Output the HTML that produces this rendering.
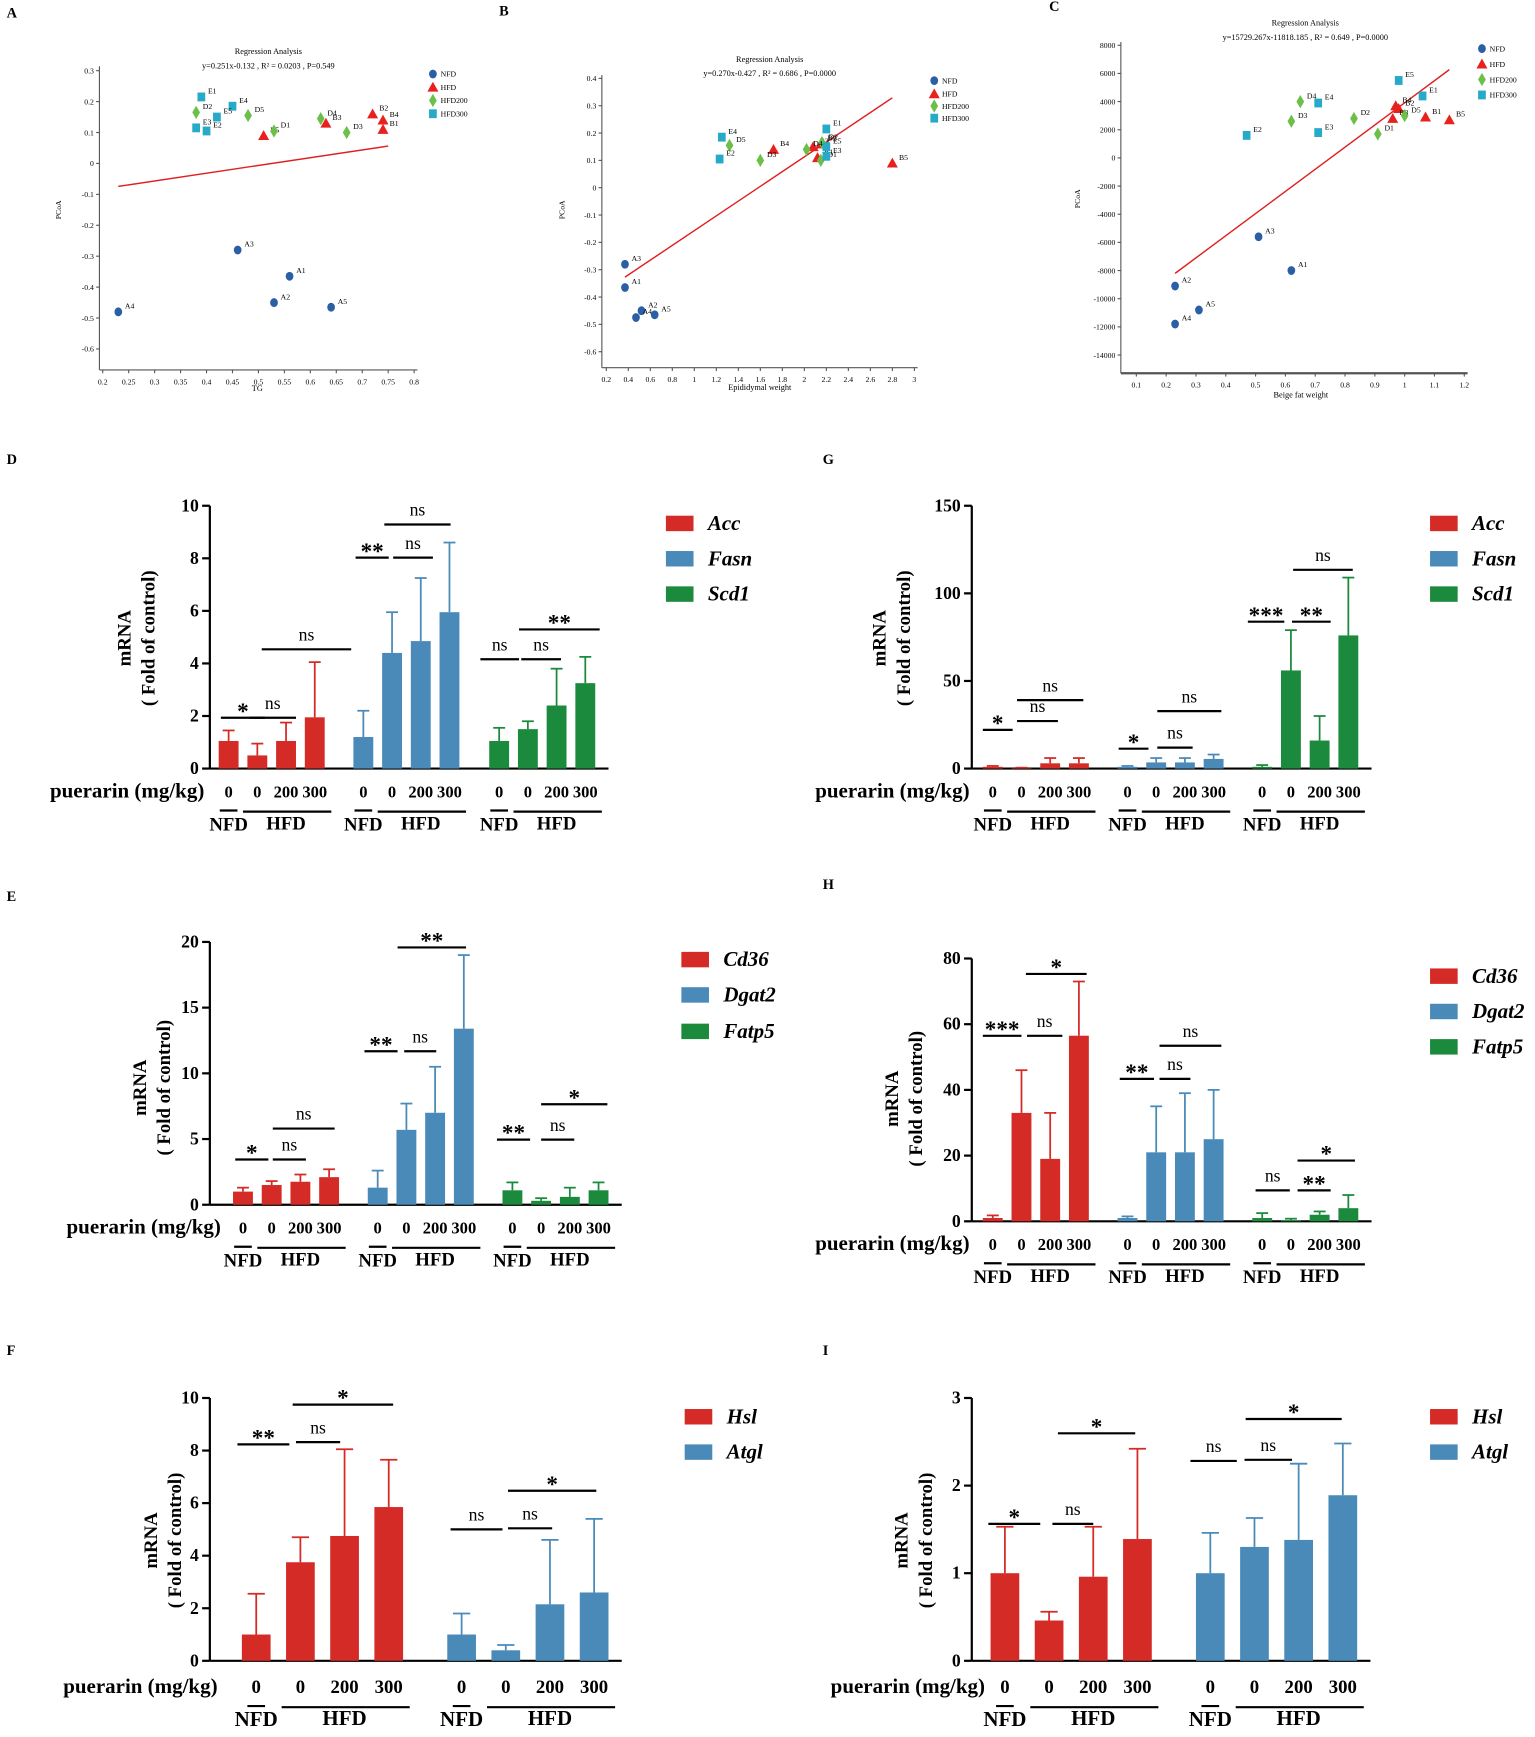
<!DOCTYPE html>
<html><head><meta charset="utf-8"><style>
html,body{margin:0;padding:0;background:#fff}
svg{display:block}
.sv{font-family:"Liberation Serif",serif}
</style></head><body>
<svg id="fig" width="1535" height="1737" viewBox="0 0 1390 1573" xmlns="http://www.w3.org/2000/svg" class="sv"></svg>
<script>
// ---------- scatter data ----------
const aNames=["A1","A2","A3","A4","A5"],bNames=["B1","B2","B3","B4","B5"],dNames=["D1","D2","D3","D4","D5"],eNames=["E1","E2","E3","E4","E5"];
const scA_x_NFD=[0.56,0.53,0.46,0.23,0.64], scA_y_NFD=[-0.365,-0.45,-0.28,-0.48,-0.465];
const scA_x_HFD=[0.74,0.72,0.63,0.74,0.51], scA_y_HFD=[0.11,0.16,0.13,0.14,0.09];
const scA_x_H200=[0.53,0.38,0.67,0.62,0.48], scA_y_H200=[0.105,0.165,0.10,0.145,0.155];
const scA_x_H300=[0.39,0.40,0.38,0.45,0.42], scA_y_H300=[0.215,0.105,0.115,0.185,0.15];
const scB_x_NFD=[0.37,0.52,0.37,0.47,0.64], scB_y_NFD=[-0.365,-0.45,-0.28,-0.475,-0.465];
const scB_x_HFD=[2.12,2.15,2.08,1.72,2.8], scB_y_HFD=[0.11,0.16,0.15,0.14,0.09];
const scB_x_H200=[2.15,2.16,1.6,2.02,1.32], scB_y_H200=[0.10,0.165,0.10,0.14,0.155];
const scB_x_H300=[2.2,1.23,2.2,1.25,2.2], scB_y_H300=[0.215,0.105,0.115,0.185,0.15];
const scC_x_NFD=[0.62,0.23,0.51,0.23,0.31], scC_y_NFD=[-8000,-9100,-5600,-11800,-10800];
const scC_x_HFD=[1.07,0.98,0.96,0.97,1.15], scC_y_HFD=[2900,3500,2800,3700,2700];
const scC_x_H200=[0.91,0.83,0.62,0.65,1.0], scC_y_H200=[1700,2800,2600,4000,3000];
const scC_x_H300=[1.06,0.47,0.71,0.71,0.98], scC_y_H300=[4400,1600,1800,3900,5500];

// ---------- bar data ----------
const dAcc=[1.05,0.5,1.05,1.95], dAccE=[1.45,0.95,1.75,4.05];
const dFasn=[1.2,4.4,4.85,5.95], dFasnE=[2.2,5.95,7.25,8.6];
const dScd1=[1.05,1.5,2.4,3.25], dScd1E=[1.55,1.8,3.8,4.25];
const gAcc=[1,0.3,3,3], gAccE=[1.5,0.5,6,6];
const gFasn=[1,3.5,3.5,5.5], gFasnE=[1.5,6,6,8];
const gScd1=[1,56,16,76], gScd1E=[2,79,30,109];
const eCd36=[1,1.5,1.75,2.1], eCd36E=[1.3,1.8,2.3,2.7];
const eDgat2=[1.3,5.7,7,13.4], eDgat2E=[2.6,7.7,10.5,19];
const eFatp5=[1.1,0.3,0.6,1.1], eFatp5E=[1.7,0.5,1.3,1.7];
const hCd36=[1,33,19,56.5], hCd36E=[1.8,46,33,73];
const hDgat2=[1,21,21,25], hDgat2E=[1.5,35,39,40];
const hFatp5=[1,0.3,2,4], hFatp5E=[2.5,0.8,3,8];
const fHsl=[1,3.75,4.75,5.85], fHslE=[2.55,4.7,8.05,7.65];
const fAtgl=[1,0.4,2.15,2.6], fAtglE=[1.8,0.6,4.6,5.4];
const iHsl=[1,0.46,0.96,1.39], iHslE=[1.53,0.56,1.53,2.42];
const iAtgl=[1,1.3,1.38,1.89], iAtglE=[1.46,1.63,2.25,2.48];
const ticksD=[0,2,4,6,8,10], ticksG=[0,50,100,150], ticksE=[0,5,10,15,20], ticksH=[0,20,40,60,80], ticksF=[0,2,4,6,8,10], ticksI=[0,1,2,3];
const doseLabels=["0","0","200","300"];

const NS="http://www.w3.org/2000/svg";
const svg=document.getElementById('fig');
function mk(tag,attrs,name,parent){
  const e=document.createElementNS(NS,tag);
  for(const k in attrs) e.setAttribute(k,attrs[k]);
  
  
  (parent||svg).appendChild(e);return e;
}
function txt(s,x,y,attrs,name,parent){const t=mk('text',Object.assign({x:x,y:y},attrs),name,parent);t.textContent=s;return t;}

const RED="#d42b27",BLUE="#4a8ab9",GREEN="#1c8a3c";
const mkCol={NFD:"#2a5fa5",HFD:"#e8211f",H200:"#6cc04a",H300:"#27aac8"};

function marker(g,type,x,y,name){
  if(type==="NFD") mk('ellipse',{cx:x,cy:y,rx:3.5,ry:4,fill:mkCol.NFD},name,g);
  else if(type==="HFD") mk('polygon',{points:`${x},${y-5} ${x+5},${y+4} ${x-5},${y+4}`,fill:mkCol.HFD},name,g);
  else if(type==="H200") mk('polygon',{points:`${x},${y-6} ${x+3.5},${y} ${x},${y+6} ${x-3.5},${y}`,fill:mkCol.H200},name,g);
  else mk('rect',{x:x-3.5,y:y-4,width:7,height:8,fill:mkCol.H300},name,g);
}

function scatter(cfg){
  const g=mk('g',{},cfg.id);
  const sx=v=>cfg.ax0+(v-cfg.xmin)/(cfg.xmax-cfg.xmin)*(cfg.ax1-cfg.ax0);
  const sy=v=>cfg.ay0+(v-cfg.ymin)/(cfg.ymax-cfg.ymin)*(cfg.ay1-cfg.ay0);
  txt(cfg.letter,cfg.lx,cfg.ly,{"font-size":13,"font-weight":"bold"},'panel-letter',g);
  mk('line',{x1:cfg.yax,y1:cfg.ytop,x2:cfg.yax,y2:cfg.xay,stroke:"#555","stroke-width":1},'y-axis',g);
  mk('line',{x1:cfg.yax,y1:cfg.xay,x2:cfg.xend,y2:cfg.xay,stroke:"#555","stroke-width":cfg.xw||1},'x-axis',g);
  cfg.yt.forEach(v=>{const y=sy(v);mk('line',{x1:cfg.yax-3,y1:y,x2:cfg.yax,y2:y,stroke:"#555"},'y-tick',g);
    txt(cfg.yfmt(v),cfg.yax-5,y+2.5,{"font-size":7,"text-anchor":"end"},'y-tick-label',g);});
  cfg.xt.forEach(v=>{const x=sx(v);mk('line',{x1:x,y1:cfg.xay,x2:x,y2:cfg.xay+3,stroke:"#555"},'x-tick',g);
    txt(String(+v.toFixed(2)),x,cfg.xay+13,{"font-size":7,"text-anchor":"middle"},'x-tick-label',g);});
  txt(cfg.xlabel,cfg.xlx,cfg.xly,{"font-size":7.5,"text-anchor":"middle"},'x-axis-title',g);
  txt("PCoA",0,0,{"font-size":7,"text-anchor":"middle",transform:`translate(${cfg.ylx},${cfg.yly}) rotate(-90)`},'y-axis-title',g);
  txt("Regression Analysis",cfg.tx,cfg.ty,{"font-size":7.5,"text-anchor":"middle"},'chart-title',g);
  txt(cfg.eq,cfg.tx,cfg.ty+13,{"font-size":7.5,"text-anchor":"middle"},'regression-equation',g);
  mk('line',{x1:sx(cfg.lx0),y1:sy(cfg.slope*cfg.lx0+cfg.icpt),x2:sx(cfg.lx1),y2:sy(cfg.slope*cfg.lx1+cfg.icpt),stroke:"#e02020","stroke-width":1.3},'regression-line',g);
  const groups=[["NFD",cfg.nx,cfg.ny,aNames],["HFD",cfg.hx,cfg.hy,bNames],["H200",cfg.dx,cfg.dy,dNames],["H300",cfg.ex,cfg.ey,eNames]];
  groups.forEach(([t,xs,ys,nm])=>{xs.forEach((xv,i)=>{const x=sx(xv),y=sy(ys[i]);marker(g,t,x,y,'point-'+nm[i]);
    txt(nm[i],x+6,y-3,{"font-size":7},'point-label',g);});});
  const lg=["NFD","HFD","HFD200","HFD300"],lt=["NFD","HFD","H200","H300"];
  lg.forEach((s,i)=>{const y=cfg.legy[i];marker(g,lt[i],cfg.legx,y,'legend-marker');txt(s,cfg.legx+7,y+2.5,{"font-size":7},'legend-entry',g);});
}

scatter({id:'panel-a',letter:'A',lx:6,ly:16,xmin:0.2,xmax:0.8,ax0:93,ax1:375,ymin:0,ymax:0.3,ay0:148,ay1:64,
 yax:90,ytop:60,xay:335,xend:378,yt:[0.3,0.2,0.1,0,-0.1,-0.2,-0.3,-0.4,-0.5,-0.6],yfmt:v=>String(+v.toFixed(1)),
 xt:[0.2,0.25,0.3,0.35,0.4,0.45,0.5,0.55,0.6,0.65,0.7,0.75,0.8],xlabel:"TG",xlx:233,xly:354,ylx:55,yly:190,tx:243,ty:49,
 eq:"y=0.251x-0.132 , R² = 0.0203 , P=0.549",lx0:0.23,lx1:0.75,slope:0.251,icpt:-0.132,
 nx:scA_x_NFD,ny:scA_y_NFD,hx:scA_x_HFD,hy:scA_y_HFD,dx:scA_x_H200,dy:scA_y_H200,ex:scA_x_H300,ey:scA_y_H300,legx:392,legy:[67,79,91,103]});
scatter({id:'panel-b',letter:'B',lx:452,ly:14,xmin:0.2,xmax:3,ax0:549,ax1:828,ymin:0,ymax:0.4,ay0:170,ay1:71,
 yax:545,ytop:68,xay:333,xend:831,yt:[0.4,0.3,0.2,0.1,0,-0.1,-0.2,-0.3,-0.4,-0.5,-0.6],yfmt:v=>String(+v.toFixed(1)),
 xt:[0.2,0.4,0.6,0.8,1,1.2,1.4,1.6,1.8,2,2.2,2.4,2.6,2.8,3],xlabel:"Epididymal weight",xlx:688,xly:353,ylx:511,yly:190,tx:697,ty:56,
 eq:"y=0.270x-0.427 , R² = 0.686 , P=0.0000",lx0:0.37,lx1:2.8,slope:0.270,icpt:-0.427,
 nx:scB_x_NFD,ny:scB_y_NFD,hx:scB_x_HFD,hy:scB_y_HFD,dx:scB_x_H200,dy:scB_y_H200,ex:scB_x_H300,ey:scB_y_H300,legx:846,legy:[73,85,96,107]});
scatter({id:'panel-c',letter:'C',lx:950,ly:10,xmin:0.1,xmax:1.2,ax0:1029,ax1:1326,ymin:0,ymax:8000,ay0:143,ay1:41,
 yax:1015,ytop:38,xay:338,xend:1329,xw:2,yt:[8000,6000,4000,2000,0,-2000,-4000,-6000,-8000,-10000,-12000,-14000],yfmt:v=>String(v),
 xt:[0.1,0.2,0.3,0.4,0.5,0.6,0.7,0.8,0.9,1,1.1,1.2],xlabel:"Beige fat weight",xlx:1178,xly:360,ylx:978,yly:180,tx:1182,ty:23,
 eq:"y=15729.267x-11818.185 , R² = 0.649 , P=0.0000",lx0:0.23,lx1:1.15,slope:15729.267,icpt:-11818.185,
 nx:scC_x_NFD,ny:scC_y_NFD,hx:scC_x_HFD,hy:scC_y_HFD,dx:scC_x_H200,dy:scC_y_H200,ex:scC_x_H300,ey:scC_y_H300,legx:1342,legy:[44,58,72,86]});

// ---------- bar panels ----------
function barPanel(cfg){
  const g=mk('g',{},cfg.id);
  const sy=v=>cfg.y0-v/cfg.max*(cfg.y0-cfg.ytop);
  txt(cfg.letter,cfg.lx,cfg.ly,{"font-size":13,"font-weight":"bold"},'panel-letter',g);
  const lastX=cfg.bx[cfg.bx.length-1];const last=lastX[3]+cfg.bw/2+12;
  mk('line',{x1:cfg.x0,y1:cfg.ytop,x2:cfg.x0,y2:cfg.y0,stroke:"#000","stroke-width":2},'y-axis',g);
  mk('line',{x1:cfg.x0,y1:cfg.y0,x2:last,y2:cfg.y0,stroke:"#000","stroke-width":2},'x-axis',g);
  cfg.ticks.forEach(v=>{const y=sy(v);mk('line',{x1:cfg.x0-7,y1:y,x2:cfg.x0,y2:y,stroke:"#000","stroke-width":2},'y-tick',g);
    txt(String(v),cfg.x0-10,y+5,{"font-size":16,"font-weight":"bold","text-anchor":"end"},'y-tick-label',g);});
  txt("mRNA",0,0,{"font-size":17,"font-weight":"bold","text-anchor":"middle",transform:`translate(${cfg.ylx},${cfg.yly}) rotate(-90)`},'y-axis-title',g);
  txt("( Fold of control)",0,0,{"font-size":17,"font-weight":"bold","text-anchor":"middle",transform:`translate(${cfg.ylx+22},${cfg.yly}) rotate(-90)`},'y-axis-title-2',g);
  cfg.series.forEach((s,si)=>{const xs=cfg.bx[si];
    s.v.forEach((v,i)=>{const x=xs[i];const top=sy(v);const et=sy(s.e[i]);
      mk('line',{x1:x,y1:et,x2:x,y2:top,stroke:s.c,"stroke-width":1.6},'error-bar',g);
      mk('line',{x1:x-cfg.bw*0.3,y1:et,x2:x+cfg.bw*0.3,y2:et,stroke:s.c,"stroke-width":1.6},'error-cap',g);
      mk('rect',{x:x-cfg.bw/2,y:top,width:cfg.bw,height:cfg.y0-top,fill:s.c},'bar-'+s.n+'-'+i,g);});
    const ly=cfg.labY;
    xs.forEach((x,i)=>txt(doseLabels[i],x,ly,{"font-size":cfg.fs,"font-weight":"bold","text-anchor":"middle"},'dose-label',g));
    mk('line',{x1:xs[0]-8,y1:ly+12,x2:xs[0]+8,y2:ly+12,stroke:"#000","stroke-width":2},'nfd-line',g);
    mk('line',{x1:xs[1]-cfg.bw/2-4,y1:ly+13,x2:xs[3]+cfg.bw/2+6,y2:ly+13,stroke:"#000","stroke-width":2},'hfd-line',g);
    txt("NFD",xs[0],ly+30,{"font-size":cfg.fs+2,"font-weight":"bold","text-anchor":"middle"},'nfd-label',g);
    txt("HFD",xs[2],ly+29,{"font-size":cfg.fs+2,"font-weight":"bold","text-anchor":"middle"},'hfd-label',g);
    mk('rect',{x:cfg.legx,y:cfg.legy[si]-13,width:25,height:14,fill:s.c},'legend-swatch',g);
    txt(s.n,cfg.legx+38,cfg.legy[si],{"font-size":19,"font-weight":"bold","font-style":"italic"},'legend-entry',g);});
  txt("puerarin (mg/kg)",cfg.px,cfg.labY,{"font-size":19,"font-weight":"bold","text-anchor":"end"},'puerarin-label',g);
  cfg.sig.forEach(([a,b,y,s])=>{mk('line',{x1:a,y1:y,x2:b,y2:y,stroke:"#000","stroke-width":2},'sig-line',g);
    txt(s,(a+b)/2,s==="ns"?y-8:y+1,{"font-size":s==="ns"?16:21,"font-weight":s==="ns"?"normal":"bold","text-anchor":"middle"},'sig-label',g);});
}
const bx3a=[[207,233,259,285],[329,355,381,407],[452,478,504,530]];
const bx3g=[[899,925,951,977],[1021,1047,1073,1099],[1143,1169,1195,1221]];
const bx3e=[[220,246,272,298],[342,368,394,420],[464,490,516,542]];
barPanel({id:'panel-d',letter:'D',lx:6,ly:420,x0:190,y0:696,ytop:458,max:10,ticks:ticksD,ylx:118,yly:578,bw:18,fs:15,bx:bx3a,labY:722,px:185,
 series:[{n:"Acc",v:dAcc,e:dAccE,c:RED},{n:"Fasn",v:dFasn,e:dFasnE,c:BLUE},{n:"Scd1",v:dScd1,e:dScd1E,c:GREEN}],legx:603,legy:[480,512,544],
 sig:[[200,240,650,"*"],[226,268,650,"ns"],[237,318,588,"ns"],[322,352,505,"**"],[356,392,505,"ns"],[348,408,475,"ns"],[435,470,597,"ns"],[472,508,597,"ns"],[470,543,570,"**"]]});
barPanel({id:'panel-g',letter:'G',lx:745,ly:420,x0:880,y0:696,ytop:458,max:150,ticks:ticksG,ylx:802,yly:578,bw:18,fs:15,bx:bx3g,labY:722,px:878,
 series:[{n:"Acc",v:gAcc,e:gAccE,c:RED},{n:"Fasn",v:gFasn,e:gFasnE,c:BLUE},{n:"Scd1",v:gScd1,e:gScd1E,c:GREEN}],legx:1295,legy:[480,512,544],
 sig:[[890,917,661,"*"],[921,958,653,"ns"],[921,981,634,"ns"],[1013,1040,678,"*"],[1048,1080,677,"ns"],[1048,1106,644,"ns"],[1130,1163,563,"***"],[1170,1205,563,"**"],[1171,1225,516,"ns"]]});
barPanel({id:'panel-e',letter:'E',lx:6,ly:816,x0:190,y0:1091,ytop:853,max:20,ticks:ticksE,ylx:132,yly:985,bw:18,fs:15,bx:bx3e,labY:1117,px:200,
 series:[{n:"Cd36",v:eCd36,e:eCd36E,c:RED},{n:"Dgat2",v:eDgat2,e:eDgat2E,c:BLUE},{n:"Fatp5",v:eFatp5,e:eFatp5E,c:GREEN}],legx:617,legy:[875,907,940],
 sig:[[213,243,1050,"*"],[247,277,1050,"ns"],[247,303,1022,"ns"],[330,360,952,"**"],[366,395,952,"ns"],[360,422,858,"**"],[450,480,1032,"**"],[490,520,1032,"ns"],[490,550,1000,"*"]]});
barPanel({id:'panel-h',letter:'H',lx:745,ly:805,x0:880,y0:1106,ytop:868,max:80,ticks:ticksH,ylx:813,yly:995,bw:18,fs:15,bx:bx3g,labY:1132,px:878,
 series:[{n:"Cd36",v:hCd36,e:hCd36E,c:RED},{n:"Dgat2",v:hDgat2,e:hDgat2E,c:BLUE},{n:"Fatp5",v:hFatp5,e:hFatp5E,c:GREEN}],legx:1295,legy:[890,922,954],
 sig:[[890,925,938,"***"],[930,962,938,"ns"],[929,984,882,"*"],[1014,1045,977,"**"],[1050,1078,977,"ns"],[1050,1106,947,"ns"],[1137,1168,1078,"ns"],[1175,1205,1078,"**"],[1175,1227,1051,"*"]]});
barPanel({id:'panel-f',letter:'F',lx:6,ly:1227,x0:190,y0:1504,ytop:1266,max:10,ticks:ticksF,ylx:142,yly:1395,bw:26,fs:17,bx:[[232,272,312,352],[418,458,498,538]],labY:1533,px:197,
 series:[{n:"Hsl",v:fHsl,e:fHslE,c:RED},{n:"Atgl",v:fAtgl,e:fAtglE,c:BLUE}],legx:620,legy:[1289,1321],
 sig:[[215,262,1308,"**"],[268,308,1306,"ns"],[265,356,1272,"*"],[408,455,1385,"ns"],[460,500,1384,"ns"],[460,540,1350,"*"]]});
barPanel({id:'panel-i',letter:'I',lx:745,ly:1227,x0:880,y0:1504,ytop:1266,max:3,ticks:ticksI,ylx:822,yly:1395,bw:26,fs:17,bx:[[910,950,990,1030],[1096,1136,1176,1216]],labY:1533,px:892,
 series:[{n:"Hsl",v:iHsl,e:iHslE,c:RED},{n:"Atgl",v:iAtgl,e:iAtglE,c:BLUE}],legx:1295,legy:[1289,1321],
 sig:[[895,942,1380,"*"],[953,990,1380,"ns"],[958,1028,1298,"*"],[1078,1120,1323,"ns"],[1127,1170,1322,"ns"],[1128,1215,1285,"*"]]});
</script>
</body></html>
